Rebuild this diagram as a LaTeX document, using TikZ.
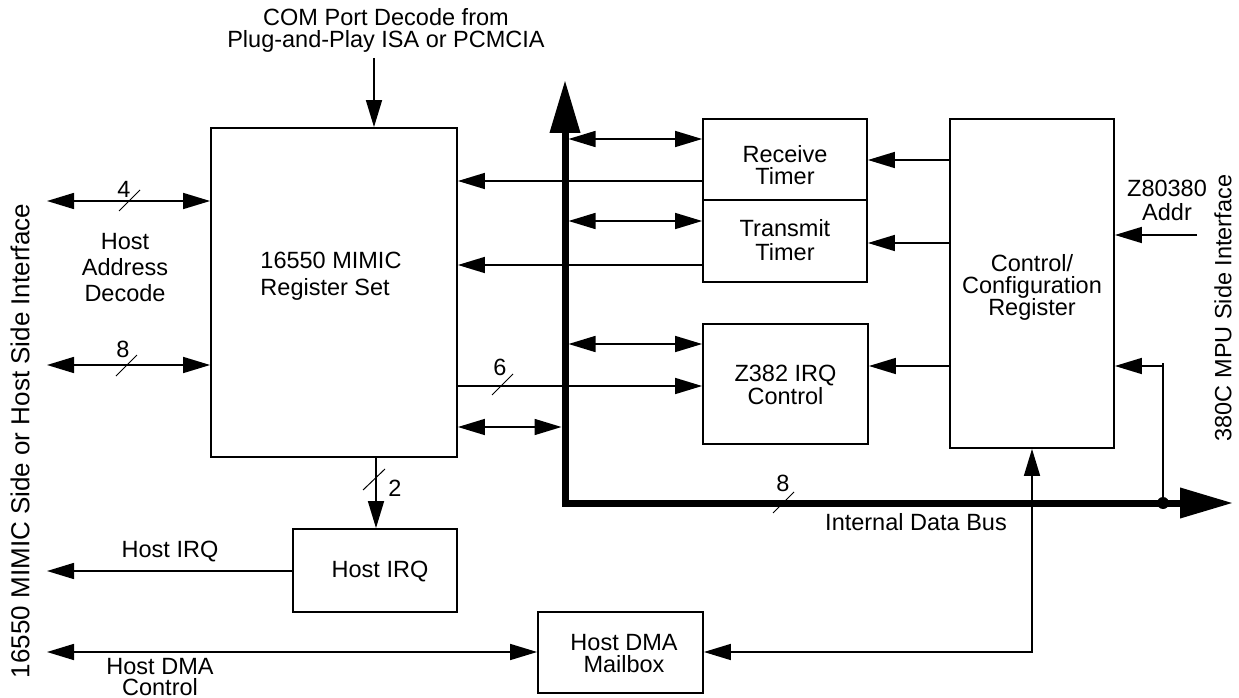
\documentclass[tikz,border=0pt]{standalone}
\usepackage{fontspec}
\setmainfont{Liberation Sans}
\usetikzlibrary{arrows.meta}
\newcommand\fsz[1]{\fontsize{23.5pt}{#1}\selectfont}
\begin{document}
\begin{tikzpicture}[x=1pt,y=-1pt,
  box/.style={draw, line width=1.8pt, inner sep=0pt},
  txt/.style={font=\fsz{22pt}, inner sep=0pt, align=center},
  ln/.style={line width=1.6pt},
  arr/.style={ln, -{Triangle[length=27pt,width=16pt]}},
  dbl/.style={ln, {Triangle[length=27pt,width=16pt]}-{Triangle[length=27pt,width=16pt]}},
  busline/.style={line width=7pt, line join=miter, {Triangle[length=53pt,width=29pt]}-{Triangle[length=53pt,width=29pt]}},
  slash/.style={line width=1pt}]
\useasboundingbox (0,0) rectangle (1239,698);

% boxes
\node[box, minimum width=246pt, minimum height=329pt] (main) at (334,292.5) {};
\node[box, minimum width=164pt, minimum height=81pt] (rt) at (785,159.5) {};
\node[box, minimum width=164pt, minimum height=82pt] (tt) at (785,241) {};
\node[box, minimum width=165pt, minimum height=120pt] (zi) at (785.5,384) {};
\node[box, minimum width=164pt, minimum height=329pt] (cc) at (1032,283.5) {};
\node[box, minimum width=164pt, minimum height=83pt] (hi) at (375,570.5) {};
\node[box, minimum width=165pt, minimum height=81pt] (mb) at (620.5,652.5) {};

% box texts
\node[txt, align=left, font=\fsz{27pt}] (mainl) at (331,276.5) {16550 MIMIC\\Register Set};
\node[txt, font=\fsz{22pt}] (rtl) at (785,165.5) {Receive\\Timer};
\node[txt, font=\fsz{24pt}] (ttl) at (785,240) {Transmit\\Timer};
\node[txt, font=\fsz{21pt}] (zil) at (785.5,385) {Z382 IRQ\\Control};
\node[txt, font=\fsz{22pt}] (ccl) at (1032,287) {Control/\\Configuration\\Register};
\node[txt] (hil) at (380,572) {Host IRQ};
\node[txt, font=\fsz{22pt}] (mbl) at (624,654) {Host DMA\\Mailbox};

% free labels
\node[txt, font=\fsz{22pt}] (com) at (386,30) {COM Port Decode from\\Plug-and-Play ISA or PCMCIA};
\node[txt, font=\fsz{26pt}] (had) at (125,268) {Host\\Address\\Decode};
\node[txt, font=\fsz{24pt}] (zaddr) at (1167,200) {Z80380\\Addr};
\node[txt, rotate=90] (rside) at (1223,308) {380C MPU Side Interface};
\node[txt, rotate=90, font=\fontsize{26pt}{28pt}\selectfont] (lside) at (20,441) {16550 MIMIC Side or Host Side Interface};
\node[txt] (hirql) at (170,552) {Host IRQ};
\node[txt, font=\fsz{21pt}] (hdmal) at (160,677) {Host DMA\\Control};
\node[txt] (idb) at (916,522) {Internal Data Bus};
\node[txt] (n4) at (124,189) {4};
\node[txt] (n8a) at (123,349) {8};
\node[txt] (n6) at (500,367) {6};
\node[txt] (n2) at (395,488) {2};
\node[txt] (n8b) at (783,483) {8};

% coordinates
\coordinate (comin) at (374,58);
\coordinate (busR) at (568.5,0);
\coordinate (busL) at (561.5,0);
\coordinate (la) at (47,0);
\coordinate (zin) at (1197,235);
\coordinate (bustop) at (565,80);
\coordinate (buscorner) at (565,503);
\coordinate (busend) at (1233,503);
\coordinate (dot) at (1163,503);

% connectors
\draw[arr] (comin) -- (main.north -| comin);
\draw[dbl] (la |- 0,201) -- (main.west |- 0,201);
\draw[dbl] (la |- 0,365) -- (main.west |- 0,365);
\draw[arr] (rt.west |- 0,181) -- (main.east |- 0,181);
\draw[arr] (tt.west |- 0,265) -- (main.east |- 0,265);
\draw[arr] (main.east |- 0,386) -- (zi.west |- 0,386);
\draw[dbl] (busR |- 0,139) -- (rt.west |- 0,139);
\draw[dbl] (busR |- 0,221) -- (tt.west |- 0,221);
\draw[dbl] (busR |- 0,344) -- (zi.west |- 0,344);
\draw[dbl] (main.east |- 0,427) -- (busL |- 0,427);
\draw[arr] (main.south -| 376,0) -- (hi.north -| 376,0);
\draw[arr] (hi.west |- 0,571) -- (la |- 0,571);
\draw[dbl] (la |- 0,652) -- (mb.west |- 0,652);
\draw[dbl] (mb.east |- 0,652) -| (cc.south);
\draw[arr] (cc.west |- 0,160) -- (rt.east |- 0,160);
\draw[arr] (cc.west |- 0,243) -- (tt.east |- 0,243);
\draw[arr] (cc.west |- 0,366) -- (zi.east |- 0,366);
\draw[arr] (zin) -- (cc.east |- zin);
\draw[ln] (dot) -- (dot |- 0,363);
\draw[arr] (dot |- 0,366) -- (cc.east |- 0,366);

% bus
\draw[busline] (bustop) -- (buscorner) -- (busend);
\fill (dot) circle (6pt);

% slashes
\draw[slash] (119,211) -- (140,190);
\draw[slash] (116,376) -- (137,355);
\draw[slash] (492,395) -- (513,374);
\draw[slash] (363,490) -- (385,469);
\draw[slash] (773,513) -- (794,492);
\end{tikzpicture}
\end{document}
